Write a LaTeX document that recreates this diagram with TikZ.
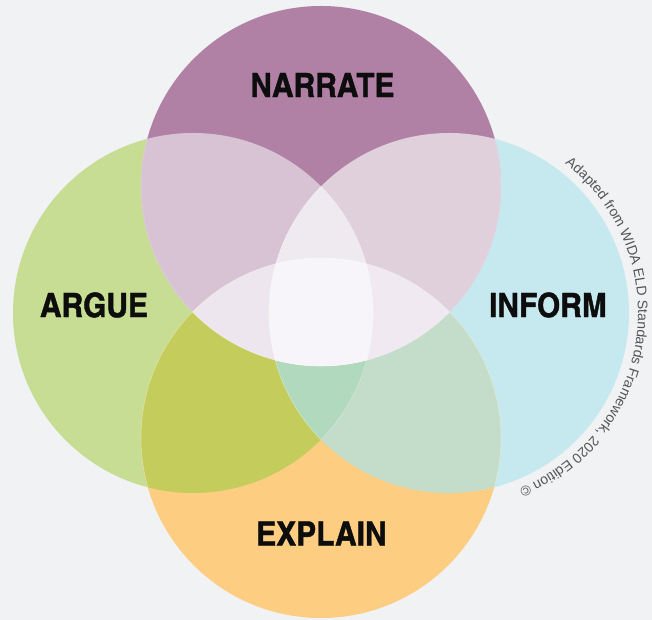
\documentclass[tikz,border=0pt]{standalone}
\usepackage{fontspec}
\usetikzlibrary{decorations.text}
\newfontfamily\condfont{TeX Gyre Heros Cn}[FakeStretch=1.09, FakeBold=1.2]
\newfontfamily\notefont{Liberation Sans}
\definecolor{bgc}{HTML}{F1F2F4}
\definecolor{cT}{HTML}{B081A5}
\definecolor{cL}{HTML}{C6DD93}
\definecolor{cR}{HTML}{C6E8EF}
\definecolor{cB}{HTML}{FDCD82}
\definecolor{cTL}{HTML}{D8C3D5}
\definecolor{cTR}{HTML}{DFD0DB}
\definecolor{cBL}{HTML}{C4CC5B}
\definecolor{cBR}{HTML}{C4DDCA}
\definecolor{cTLR}{HTML}{EFEAEF}
\definecolor{cBLR}{HTML}{B0D9BE}
\definecolor{cTBL}{HTML}{EEE6EE}
\definecolor{cTBR}{HTML}{F0E9F1}
\definecolor{cAll}{HTML}{F7F5F9}
\definecolor{notec}{HTML}{555555}
\tikzset{
  lab/.style={font=\condfont\bfseries\fontsize{33.5bp}{33.5bp}\selectfont, text=black!95, inner sep=0pt},
  edge/.style={draw=white, draw opacity=0.35, line width=0.6bp}
}
\def\cirT{(321,434) circle[radius=180bp]}
\def\cirB{(321,182) circle[radius=180bp]}
\def\cirL{(193,307) circle[radius=180bp]}
\def\cirR{(449,307) circle[radius=180bp]}
\begin{document}
\begin{tikzpicture}[x=1bp,y=1bp]
\useasboundingbox (0,0) rectangle (652,620);
\fill[bgc] (0,0) rectangle (652,620);
% base circles
\fill[cL] \cirL;
\fill[cR] \cirR;
\fill[cT] \cirT;
\fill[cB] \cirB;
% pairwise
\begin{scope}\clip \cirT; \fill[cTL] \cirL; \end{scope}
\begin{scope}\clip \cirT; \fill[cTR] \cirR; \end{scope}
\begin{scope}\clip \cirB; \fill[cBL] \cirL; \end{scope}
\begin{scope}\clip \cirB; \fill[cBR] \cirR; \end{scope}
% triples
\begin{scope}\clip \cirT; \clip \cirL; \fill[cTLR] \cirR; \end{scope}
\begin{scope}\clip \cirB; \clip \cirL; \fill[cBLR] \cirR; \end{scope}
\begin{scope}\clip \cirT; \clip \cirB; \fill[cTBL] \cirL; \end{scope}
\begin{scope}\clip \cirT; \clip \cirB; \fill[cTBR] \cirR; \end{scope}
% all four
\begin{scope}\clip \cirT; \clip \cirB; \clip \cirL; \fill[cAll] \cirR; \end{scope}
% faint inner edges
\begin{scope}\clip \cirL; \path[edge] \cirT; \path[edge] \cirB; \path[edge] \cirR; \end{scope}
\begin{scope}\clip \cirR; \path[edge] \cirT; \path[edge] \cirB; \path[edge] \cirL; \end{scope}
% labels
\node[lab] (narrate) at (322.5,535) {NARRATE};
\node[lab] (argue) at (94,315) {ARGUE};
\node[lab] (inform) at (548,315) {INFORM};
\node[lab] (explain) at (321.5,86.5) {EXPLAIN};
% curved credit
\path[decorate, decoration={text along path, text align=center,
  text={|\notefont\fontsize{14bp}{14bp}\selectfont\color{notec}|Adapted from WIDA ELD Standards Framework, 2020 Edition ©}}]
  (449,307) ++(70:189) arc[start angle=70, end angle=-86, radius=189bp];
\end{tikzpicture}
\end{document}
